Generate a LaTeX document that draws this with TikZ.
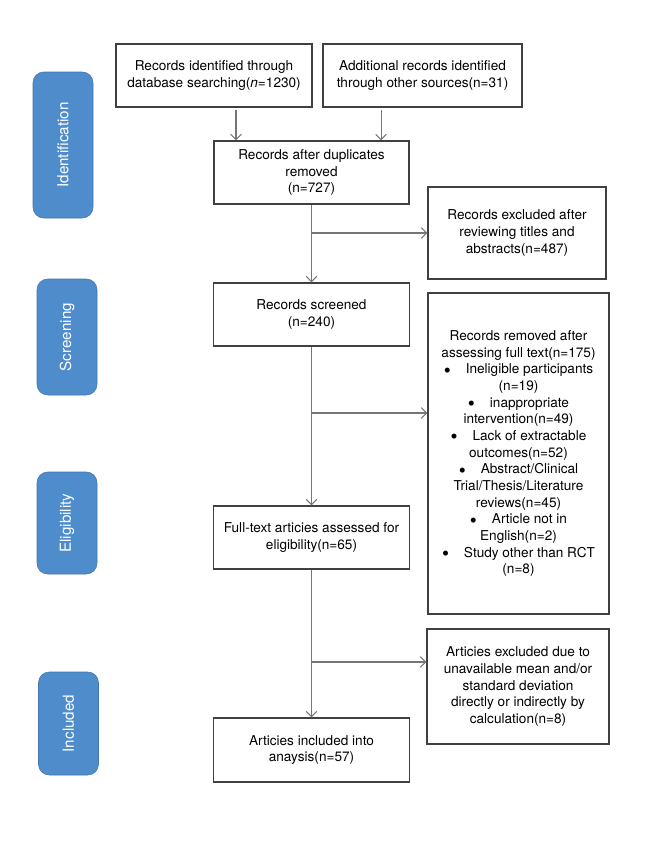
\documentclass[tikz,border=0pt]{standalone}
\usepackage{fontspec}
\setmainfont{TeX Gyre Heros}
\usetikzlibrary{arrows.meta}
\definecolor{phaseBlue}{RGB}{78,140,204}
\definecolor{boxGray}{RGB}{64,64,64}
\definecolor{lineGray}{RGB}{118,118,118}
\newcommand{\bul}{\raisebox{-2.6pt}{\fontsize{15}{12.5}\selectfont\textbullet}\hspace{1.1em}}

\begin{document}
\begin{tikzpicture}[x=0.75pt, y=-0.75pt,
	    box/.style={rectangle, draw=boxGray, line width=0.9pt, fill=white, align=center, inner sep=2pt, minimum width=147pt, minimum height=47.25pt, font=\fontsize{10.2}{12.5}\selectfont},
	    side/.style={box, minimum width=135pt},
	    phase/.style={rectangle, rounded corners=8pt, fill=phaseBlue, draw=phaseBlue!85!black, text=white, rotate=90, minimum height=45pt, font=\fontsize{11.4}{13}\selectfont},
	    line/.style={draw=lineGray, line width=0.8pt, -{Straight Barb[length=4pt,width=8pt]}}]
	    
	    \useasboundingbox (0,0) rectangle (669,853);
	    
	    % phases
	    \node [phase, minimum width=109.5pt] (p1) at (63,145) {Identification};
	    \node [phase, minimum width=87pt] (p2) at (67,337) {Screening};
	    \node [phase, minimum width=76.5pt] (p3) at (67,523) {Eligibility};
	    \node [phase, minimum width=77.25pt] (p4) at (68.5,723.5) {Included};
	    
	    % main column
	    \node [box] (ident) at (214,75.5) {Records identified through\\database searching(\textit{n}=1230)};
	    \node [box, minimum width=149.25pt, right of=ident, node distance=156.4pt] (other) {Additional records identified\\through other sources(n=31)};
	    \node [box, minimum width=146.25pt] (dup) at (311.5,172.5) {Records after duplicates\\removed\\(n=727)};
	    \node [box, below of=dup, node distance=106.5pt] (screen) {Records screened\\(n=240)};
	    \node [box, below of=screen, node distance=167.25pt] (full) {Full-text articies assessed for\\eligibility(n=65)};
	    \node [box, minimum height=48pt, below of=full, node distance=159.4pt] (incl) {Articies included into\\anaysis(n=57)};
	    
	    % exclusions
	    \node [side, minimum width=133.5pt, minimum height=69pt] (excl) at (517,233) {Records excluded after\\reviewing titles and\\abstracts(n=487)};
	    \node [side, minimum width=135.75pt, minimum height=240.75pt] (removed) at (518.5,453.5) {Records removed after\\assessing full text(n=175)\\
	        \bul Ineligible participants\\(n=19)\\
	        \bul inappropriate\\intervention(n=49)\\
	        \bul Lack of extractable\\outcomes(n=52)\\
	        \bul Abstract/Clinical\\Trial/Thesis/Literature\\reviews(n=45)\\
	        \bul Article not in\\English(n=2)\\
	        \bul Study other than RCT\\(n=8)};
	    \node [side, minimum width=136.5pt, minimum height=86.25pt] (nodata) at (518,686.5) {Articies excluded due to\\unavailable mean and/or\\standard deviation\\directly or indirectly by\\calculation(n=8)};
	    
	    \coordinate (b2) at (312,413);
	    \coordinate (b3) at (312,662);
	    
	    \path [line] ([xshift=16.5pt,yshift=-2pt]ident.south) -- ([xshift=16.5pt]ident.south |- dup.north);
	    \path [line] ([xshift=-31.1pt,yshift=-2pt]other.south) -- ([xshift=-31.1pt]other.south |- dup.north);
	    \path [line] (dup) -- (screen);
	    \path [line] (screen) -- (full);
	    \path [line] (full) -- (incl);
	    \path [line] (dup.south |- excl.west) -- (excl.west);
	    \path [line] (b2) -- (removed.west |- b2);
	    \path [line] (b3) -- (nodata.west |- b3);
	\end{tikzpicture}
\end{document}
